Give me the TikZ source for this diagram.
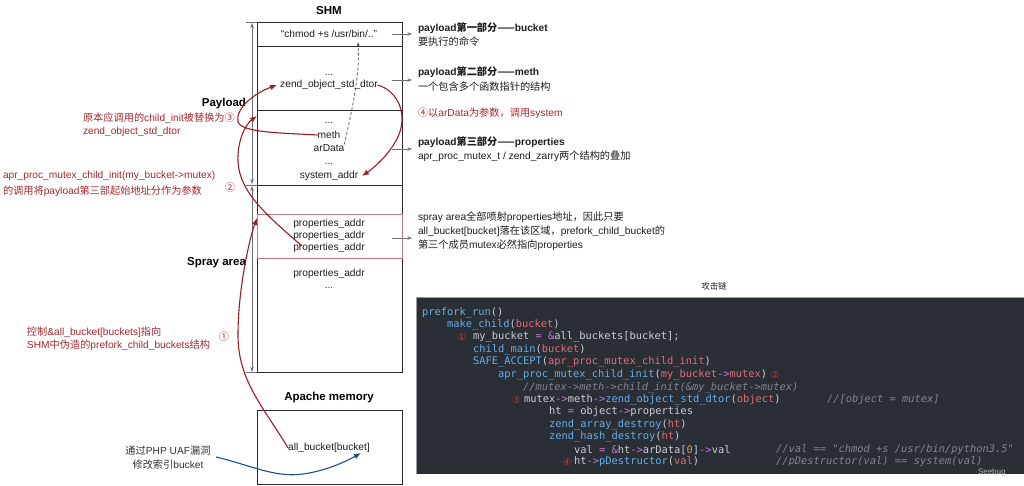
\documentclass[tikz,border=0pt]{standalone}
\usepackage{fontspec}
\setmainfont{Liberation Sans}
\newfontfamily\cjk{Noto Sans CJK SC}
\newfontfamily\codefont{DejaVu Sans Mono}
\newfontfamily\symfont{DejaVu Sans}
\usetikzlibrary{arrows.meta}
\definecolor{txtc}{HTML}{1E1E1E}
\definecolor{redc}{HTML}{A8272D}
\definecolor{reda}{HTML}{9E1C22}
\definecolor{bluea}{HTML}{1F4E8C}
\definecolor{graya}{HTML}{707070}
\definecolor{boxc}{HTML}{2A2A2A}
\definecolor{pinkc}{HTML}{C27A80}
\definecolor{codebg}{HTML}{2A2E35}
\definecolor{cwhite}{HTML}{C8CCD4}
\definecolor{cblue}{HTML}{62AEEA}
\definecolor{cred}{HTML}{E06C75}
\definecolor{cmag}{HTML}{C678DD}
\definecolor{ccom}{HTML}{7F848E}
\definecolor{corange}{HTML}{D19A66}
\definecolor{cnumc}{HTML}{D0303A}
\newcommand{\zh}[1]{{\cjk #1}}
\newcommand{\kfn}[1]{\textcolor{cblue}{#1}}
\newcommand{\karg}[1]{\textcolor{cred}{#1}}
\newcommand{\kop}[1]{\textcolor{cmag}{#1}}
\newcommand{\kcom}[1]{\textcolor{ccom}{\itshape #1}}
\begin{document}
\begin{tikzpicture}[x=1pt,y=-1pt,
  every node/.style={inner sep=0pt,outer sep=0pt},
  lab/.style={font=\fontsize{10.2}{12}\selectfont,text=txtc},
  labb/.style={font=\fontsize{10.2}{12}\selectfont\bfseries,text=txtc,anchor=west},
  labw/.style={font=\fontsize{10.2}{12}\selectfont,text=txtc,anchor=west},
  rlab/.style={font=\fontsize{10.2}{12}\selectfont,text=redc,anchor=west},
  ttl/.style={font=\fontsize{11.5}{13}\selectfont\bfseries,text=black},
  codet/.style={font=\fontsize{10.4}{12}\codefont,text=cwhite,anchor=west},
  cnum/.style={font=\fontsize{9.5}{10}\symfont,text=cnumc},
  redarr/.style={draw=reda,line width=1.1pt,-{Latex[length=7pt,width=5.5pt]}},
  bluearr/.style={draw=bluea,line width=1.1pt,-{Latex[length=7pt,width=5.5pt]}},
  grayarr/.style={draw=graya,line width=0.6pt,-{Stealth[length=4.5pt,width=3.5pt]}},
  dimarr/.style={draw=graya,line width=0.7pt,{Stealth[length=5pt,width=3.5pt]}-{Stealth[length=5pt,width=3.5pt]}},
  dasharr/.style={draw=graya!80!black,line width=0.75pt,dashed,dash pattern=on 3pt off 2pt,-{Stealth[length=5pt,width=3.5pt]}},
  ]
\useasboundingbox (0,0) rectangle (1024,485);
\fill[white] (0,0) rectangle (1024,485);

% ---------- SHM box ----------
\node[ttl] (shmt) at (329,11) {SHM};
\draw[boxc,line width=0.9pt] (257,22.5) rectangle (402,372.5);
\draw[boxc,line width=0.9pt] (257,46) -- (402,46);
\draw[boxc,line width=0.9pt] (257,110) -- (402,110);
\draw[boxc,line width=0.9pt] (257,185) -- (402,185);
\draw[pinkc,line width=0.8pt] (257,214) rectangle (402,258);

\node[lab] (chmod) at (329,34) {“chmod +s /usr/bin/..”};
\node[lab,anchor=base] (d1) at (329,75) {...};
\node[lab] (zdtor) at (329,85) {zend\_object\_std\_dtor};
\node[lab,anchor=base] (d2) at (329,123) {...};
\node[lab] (meth) at (329,135) {meth};
\node[lab] (ard) at (329,148) {arData};
\node[lab,anchor=base] (d3) at (329,164) {...};
\node[lab] (sys) at (329,176) {system\_addr};
\node[lab] (p1) at (329,224) {properties\_addr};
\node[lab] (p2) at (329,236) {properties\_addr};
\node[lab] (p3) at (329,248) {properties\_addr};
\node[lab] (p4) at (329,274) {properties\_addr};
\node[lab,anchor=base] (d4) at (329,288) {...};

% dimension arrows
\draw[graya,line width=0.7pt] (246,22.5) -- (257,22.5);
\draw[graya,line width=0.7pt] (246,185) -- (257,185);
\draw[graya,line width=0.7pt] (246,372.5) -- (257,372.5);
\coordinate (dA) at (252,23);
\coordinate (dB) at (252,184);
\coordinate (dC) at (252,186);
\coordinate (dD) at (252,372);
\draw[dimarr] (dA) -- (dB);
\draw[dimarr] (dC) -- (dD);
\node[ttl,anchor=east] (payl) at (246,104) {Payload};
\node[ttl,anchor=east] (spray) at (246,263) {Spray area};

% ---------- Apache memory ----------
\node[ttl] (apt) at (329,398) {Apache memory};
\draw[boxc,line width=0.9pt] (257,410) rectangle (402,484);
\node[lab] (allb) at (329,448) {all\_bucket[bucket]};

% ---------- right labels ----------
\coordinate (g1s) at (392,34);  \coordinate (g1e) at (412,34);
\coordinate (g2s) at (392,80);  \coordinate (g2e) at (412,80);
\coordinate (g3s) at (392,149); \coordinate (g3e) at (412,149);
\coordinate (g4s) at (392,238); \coordinate (g4e) at (412,238);
\draw[grayarr] (g1s) -- (g1e);
\draw[grayarr] (g2s) -- (g2e);
\draw[grayarr] (g3s) -- (g3e);
\draw[grayarr] (g4s) -- (g4e);
\node[labb] (r1a) at (418,28) {payload\zh{第一部分——}bucket};
\node[labw] (r1b) at (418,42) {\zh{要执行的命令}};
\node[labb] (r2a) at (418,72) {payload\zh{第二部分——}meth};
\node[labw] (r2b) at (418,87) {\zh{一个包含多个函数指针的结构}};
\node[rlab] (r4) at (418,113) {\zh{④以}arData\zh{为参数，调用}system};
\node[labb] (r3a) at (418,142) {payload\zh{第三部分——}properties};
\node[labw] (r3b) at (418,156) {apr\_proc\_mutex\_t / zend\_zarry\zh{两个结构的叠加}};
\node[labw] (s1) at (418,217) {spray area\zh{全部喷射}properties\zh{地址，因此只要}};
\node[labw] (s2) at (418,231) {all\_bucket[bucket]\zh{落在该区域，}prefork\_child\_bucket\zh{的}};
\node[labw] (s3) at (418,245) {\zh{第三个成员}mutex\zh{必然指向}properties};

% ---------- left red labels ----------
\node[rlab] (l3a) at (83,118) {\zh{原本应调用的}child\_init\zh{被替换为③}};
\node[rlab] (l3b) at (83,132) {zend\_object\_std\_dtor};
\node[rlab] (l2a) at (3,176) {apr\_proc\_mutex\_child\_init(my\_bucket->mutex)};
\node[rlab] (l2b) at (3,191) {\zh{的调用将}payload\zh{第三部起始地址分作为参数}};
\node[lab,text=redc] (n2) at (230,188) {\zh{②}};
\node[rlab] (l1a) at (27,332) {\zh{控制}\&all\_bucket[buckets]\zh{指向}};
\node[rlab] (l1b) at (27,345) {SHM\zh{中伪造的}prefork\_child\_buckets\zh{结构}};
\node[lab,text=redc] (n1) at (224,337) {\zh{①}};

% blue label
\node[lab,text=black!80] (bl1) at (168,451) {\zh{通过}PHP UAF\zh{漏洞}};
\node[lab,text=black!80] (bl2) at (168,465) {\zh{修改索引}bucket};

% ---------- connectors ----------
\coordinate (c1e) at (257,218);
\draw[redarr] (allb.west) .. controls (262,405) and (238,380) .. (238,335) .. controls (238,290) and (249,240) .. (c1e);
\coordinate (c2s) at (302,246);
\coordinate (c2e) at (257,116);
\draw[redarr] (c2s) .. controls (265,214) and (240,192) .. (238,162) .. controls (237,140) and (246,124) .. (c2e);
\coordinate (c3e) at (277,85);
\draw[redarr] (meth.west) .. controls (285,133) and (242,133) .. (238,122) .. controls (235,108) and (255,93) .. (c3e);
\coordinate (c4e) at (362,176);
\draw[redarr] (zdtor.east) .. controls (397,91) and (405,110) .. (401,128) .. controls (397,146) and (378,165) .. (c4e);
\coordinate (c5e) at (358,42);
\draw[dasharr] (ard.north east) .. controls (352,110) and (360,75) .. (c5e);
\coordinate (bs) at (216,457);
\coordinate (be) at (361,453);
\draw[bluearr] (bs) .. controls (250,465) and (275,478) .. (303,474) .. controls (325,471) and (345,462) .. (be);

% ---------- code panel ----------
\node[font=\fontsize{8.5}{10}\selectfont,text=txtc] (atk) at (714,286) {\zh{攻击链}};
\fill[codebg] (416,297) rectangle (1024,474);
\draw[graya!70,line width=0.5pt] (416,474) -- (416,297) -- (1024,297);

\node[codet] (k1) at (422,313) {\kfn{prefork\_run}()};
\node[codet] (k2) at (447,325) {\kfn{make\_child}(\karg{bucket})};
\node[cnum] (kn1) at (462,337) {①};
\node[codet] (k3) at (473,337) {my\_bucket \kop{=} \kop{\&}all\_buckets[bucket];};
\node[codet] (k4) at (473,350) {\kfn{child\_main}(\karg{bucket})};
\node[codet] (k5) at (473,362) {\kfn{SAFE\_ACCEPT}(\karg{apr\_proc\_mutex\_child\_init})};
\node[codet] (k6) at (498,375) {\kfn{apr\_proc\_mutex\_child\_init}(\karg{my\_bucket}\kop{->}\karg{mutex})};
\node[cnum] (kn2) at (775,375) {②};
\node[codet] (k7) at (523,388) {\kcom{//mutex->meth->child\_init(\&my\_bucket->mutex)}};
\node[cnum] (kn3) at (516,400) {③};
\node[codet] (k8) at (524,400) {mutex\kop{->}meth\kop{->}\kfn{zend\_object\_std\_dtor}(\karg{object})};
\node[codet] (k8c) at (827,400) {\kcom{//[object = mutex]}};
\node[codet] (k9) at (549,412) {ht \kop{=} object\kop{->}properties};
\node[codet] (k10) at (549,425) {\kfn{zend\_array\_destroy}(\karg{ht})};
\node[codet] (k11) at (549,437) {\kfn{zend\_hash\_destroy}(\karg{ht})};
\node[codet] (k12) at (574,450) {val \kop{=} \kop{\&}ht\kop{->}arData[\textcolor{corange}{0}]\kop{->}val};
\node[codet] (k12c) at (776,450) {\kcom{//val == "chmod +s /usr/bin/python3.5"}};
\node[cnum] (kn4) at (567,462) {④};
\node[codet] (k13) at (574,462) {ht\kop{->}\kfn{pDestructor}(\karg{val})};
\node[codet] (k13c) at (776,462) {\kcom{//pDestructor(val) == system(val)}};

\node[font=\fontsize{8}{9}\selectfont,text=gray!60,anchor=west] (wm) at (978,472) {Seebug};
\end{tikzpicture}
\end{document}
